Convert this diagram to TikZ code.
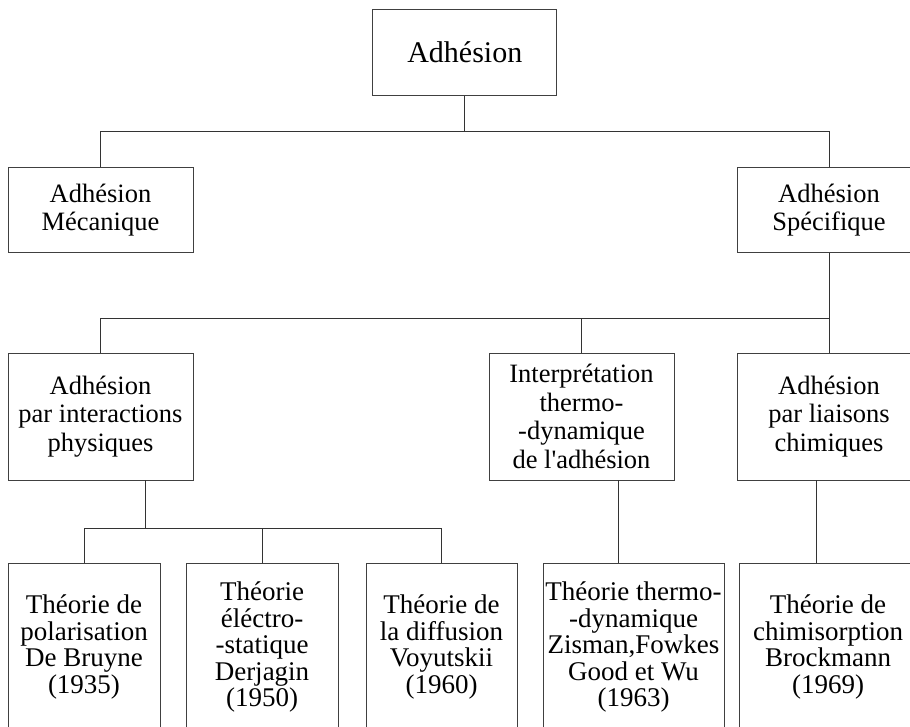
\documentclass[tikz,border=0pt]{standalone}
\usepackage{fontspec}
\setmainfont{Liberation Serif}
\begin{document}
\begin{tikzpicture}[x=1pt, y=-1pt,
    box/.style={draw=black!75, line width=0.8pt, align=center, inner sep=0pt,
                font=\fontsize{26.5}{28.5}\selectfont},
    leaf/.style={box, minimum height=168pt, font=\fontsize{27}{26.5}\selectfont},
    link/.style={draw=black!80, line width=0.8pt}]
  \useasboundingbox (0,0) rectangle (910,727);
  \clip (0,0) rectangle (910,727);

  % level 0
  \node[box, minimum width=184pt, minimum height=86pt,
        font=\fontsize{30}{32}\selectfont] (adh) at (464.8,52.3) {Adhésion};

  % level 1
  \node[box, minimum width=185pt, minimum height=85pt] (meca) at (100.5,210) {Adhésion\\Mécanique};
  \node[box, minimum width=184pt, minimum height=85pt] (spec) at (829,210) {Adhésion\\Spécifique};

  % level 2
  \node[box, minimum width=185pt, minimum height=127pt] (phys) at (100.5,416.5) {Adhésion\\par interactions\\physiques};
  \node[box, minimum width=185pt, minimum height=127pt] (inter) at (581.5,416.5) {Interprétation\\thermo-\\-dynamique\\de l\textquotesingle adhésion};
  \node[box, minimum width=184pt, minimum height=127pt] (chim) at (829,416.5) {Adhésion\\par liaisons\\chimiques};

  % level 3
  \node[leaf, minimum width=152pt] (pola) at (84,647) {Théorie de\\polarisation\\De Bruyne\\(1935)};
  \node[leaf, minimum width=152pt] (elec) at (262,647) {Théorie\\éléctro-\\-statique\\Derjagin\\(1950)};
  \node[leaf, minimum width=151pt] (diff) at (441.5,647) {Théorie de\\la diffusion\\Voyutskii\\(1960)};
  \node[leaf, minimum width=181pt] (thermo) at (633.5,647) {Théorie thermo-\\-dynamique\\Zisman,Fowkes\\Good et Wu\\(1963)};
  \node[leaf, minimum width=178pt] (chimi) at (828,647) {Théorie de\\chimisorption\\Brockmann\\(1969)};

  \coordinate (bus1) at (0,131);
  \coordinate (bus2) at (0,318.3);
  \coordinate (bus3) at (0,528.3);

  % connectors
  \draw[link] (adh.south) -- (adh.south |- bus1) -| (meca.north);
  \draw[link] (adh.south |- bus1) -| (spec.north);

  \draw[link] (spec.south) -- (spec.south |- bus2) -| (phys.north);
  \draw[link] (spec.south |- bus2) -- (chim.north);
  \draw[link] (inter.north) -- (inter.north |- bus2);

  \draw[link] ([xshift=45pt]phys.south) -- ([xshift=45pt]phys.south |- bus3);
  \draw[link] (pola.north) |- (diff.north |- bus3) -- (diff.north);
  \draw[link] (elec.north) -- (elec.north |- bus3);

  \draw[link] ([xshift=37pt]inter.south) -- ([xshift=37pt]inter.south |- thermo.north);
  \draw[link] ([xshift=-13pt]chim.south) -- ([xshift=-13pt]chim.south |- chimi.north);
\end{tikzpicture}
\end{document}
